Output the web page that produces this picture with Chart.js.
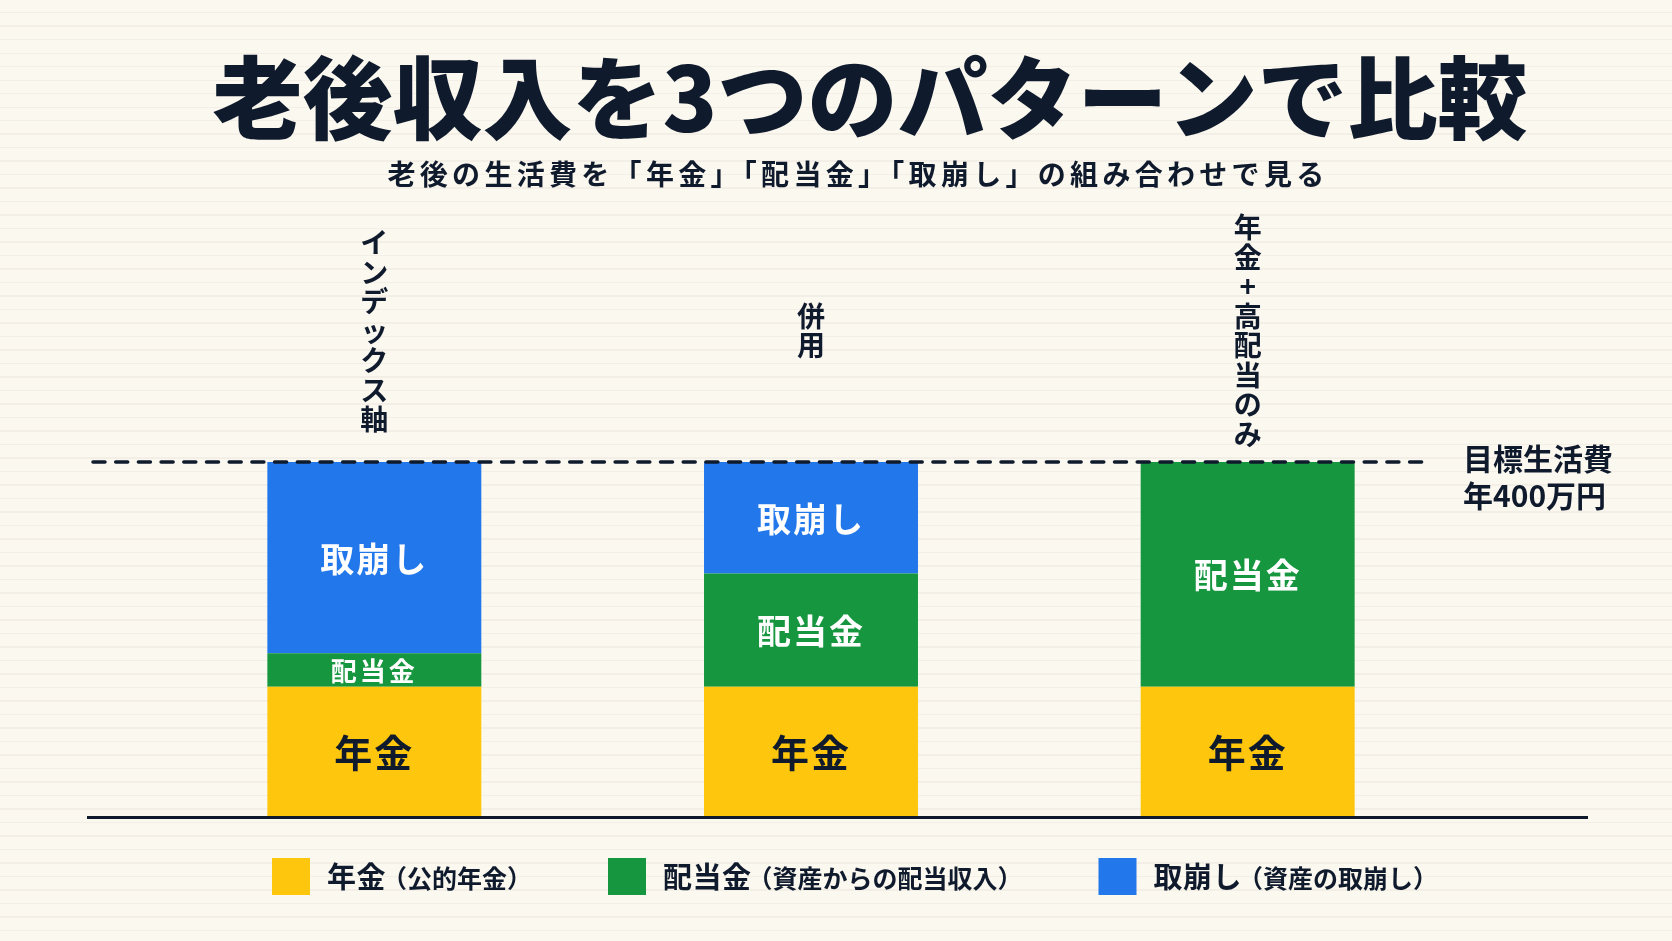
<!DOCTYPE html>
<html lang="ja">
<head>
<meta charset="utf-8">
<title>老後収入を3つのパターンで比較</title>
<script src="https://cdn.jsdelivr.net/npm/chart.js@4/dist/chart.umd.min.js"></script>
<style>
  html, body {
    margin: 0;
    padding: 0;
    width: 1672px;
    height: 941px;
    overflow: hidden;
    background-color: #fbf8f0;
    background-image: repeating-linear-gradient(to bottom, #fbf8f0 0px, #fbf8f0 12px, #f3efe6 12px, #f3efe6 13.5px);
  }
  canvas { display: block; }
</style>
</head>
<body>
<canvas id="incomeChart" width="1672" height="941"></canvas>
<script>
// データ（単位：万円／年）
const categories = ['インデックス軸', '併用', '年金+高配当のみ'];
const pension = [146, 146, 146];      // 年金
const dividend = [38, 128, 254];      // 配当金
const withdrawal = [216, 126, 0];     // 取崩し
const targetValue = 400;              // 目標生活費

const seriesNames = ['年金', '配当金', '取崩し'];
const seriesNotes = ['（公的年金）', '（資産からの配当収入）', '（資産の取崩し）'];
const seriesColors = ['#fec60c', '#16963f', '#2277ea'];
const seriesTextColors = ['#0f1a2c', '#ffffff', '#ffffff'];

const titleText = '老後収入を3つのパターンで比較';
const subtitleText = '老後の生活費を「年金」「配当金」「取崩し」の組み合わせで見る';
const targetLabel = ['目標生活費', '年400万円'];

const FONT = '"Noto Sans CJK JP", "Noto Sans", sans-serif';
const INK = '#0f1a2c';

// タイトル・ラベル・凡例を描くプラグイン
const overlayPlugin = {
    id: 'overlay',
    afterDatasetsDraw(chart) {
        const ctx = chart.ctx;
        const area = chart.chartArea;
        const yScale = chart.scales.y;

        // 各区分のラベル
        chart.data.datasets.forEach((ds, i) => {
            const meta = chart.getDatasetMeta(i);
            meta.data.forEach((bar, j) => {
                if (!ds.data[j]) return;
                const h = bar.base - bar.y;
                const size = h < 50 ? 26 : (i === 0 ? 38 : 34);
                ctx.save();
                ctx.font = `bold ${size}px ${FONT}`;
                ctx.letterSpacing = h < 50 ? '3px' : '2px';
                ctx.fillStyle = seriesTextColors[i];
                ctx.textAlign = 'center';
                ctx.textBaseline = 'middle';
                ctx.fillText(seriesNames[i], bar.x, (bar.y + bar.base) / 2 + 1);
                ctx.restore();
            });
        });

        // 目標ライン（破線）
        const ty = yScale.getPixelForValue(targetValue);
        ctx.save();
        ctx.strokeStyle = INK;
        ctx.lineWidth = 3.5;
        ctx.lineCap = 'round';
        ctx.setLineDash([12, 10.7]);
        ctx.beginPath();
        ctx.moveTo(area.left - 63, ty);
        ctx.lineTo(area.right - 37, ty);
        ctx.stroke();
        ctx.restore();

        // 基準線
        ctx.save();
        ctx.strokeStyle = INK;
        ctx.lineWidth = 3;
        ctx.beginPath();
        ctx.moveTo(area.left - 69, area.bottom + 1.5);
        ctx.lineTo(area.right + 122, area.bottom + 1.5);
        ctx.stroke();
        ctx.restore();

        // 目標ラベル
        ctx.save();
        ctx.font = `bold 30px ${FONT}`;
        ctx.fillStyle = INK;
        ctx.textAlign = 'left';
        ctx.textBaseline = 'middle';
        ctx.fillText(targetLabel[0], area.right - 3, ty - 3);
        ctx.fillText(targetLabel[1], area.right - 3, ty + 34);
        ctx.restore();

        // カテゴリ名（縦書き）
        const meta0 = chart.getDatasetMeta(0);
        categories.forEach((name, j) => {
            const x = meta0.data[j].x;
            const chars = Array.from(name);
            const step = 29.5;
            const startY = 331 - (chars.length - 1) * step / 2;
            ctx.save();
            ctx.font = `bold 28px ${FONT}`;
            ctx.fillStyle = INK;
            ctx.textAlign = 'center';
            ctx.textBaseline = 'middle';
            chars.forEach((c, k) => ctx.fillText(c, x, startY + k * step));
            ctx.restore();
        });

        // タイトル
        ctx.save();
        ctx.fillStyle = INK;
        ctx.textAlign = 'center';
        ctx.textBaseline = 'middle';
        ctx.font = `900 90px ${FONT}`;
        ctx.fillText(titleText, 870, 98);
        ctx.font = `bold 28px ${FONT}`;
        ctx.letterSpacing = '4.3px';
        ctx.fillText(subtitleText, 858, 174);
        ctx.restore();

        // 凡例
        let lx = 272;
        const ly = 877;
        seriesNames.forEach((name, i) => {
            ctx.save();
            ctx.fillStyle = seriesColors[i];
            ctx.fillRect(lx, ly - 19, 38, 37);
            lx += 38 + 17;
            ctx.fillStyle = INK;
            ctx.textAlign = 'left';
            ctx.textBaseline = 'middle';
            ctx.font = `bold 29px ${FONT}`;
            ctx.letterSpacing = '0.5px';
            ctx.fillText(name, lx, ly);
            lx += ctx.measureText(name).width;
            ctx.font = `bold 25px ${FONT}`;
            ctx.letterSpacing = '0px';
            ctx.fillText(seriesNotes[i], lx - 4, ly + 1);
            lx += ctx.measureText(seriesNotes[i]).width + 72;
            ctx.restore();
        });
    }
};

const canvas = document.getElementById('incomeChart');
const ctx = canvas.getContext('2d');

new Chart(ctx, {
    type: 'bar',
    data: {
        labels: categories,
        datasets: [
            { label: seriesNames[0], data: pension, backgroundColor: seriesColors[0] },
            { label: seriesNames[1], data: dividend, backgroundColor: seriesColors[1] },
            { label: seriesNames[2], data: withdrawal, backgroundColor: seriesColors[2] }
        ]
    },
    options: {
        responsive: false,
        maintainAspectRatio: false,
        animation: false,
        layout: { padding: { left: 156, right: 206, top: 462, bottom: 125 } },
        datasets: {
            bar: { barPercentage: 0.49, categoryPercentage: 1, borderWidth: 0 }
        },
        scales: {
            x: { stacked: true, display: false },
            y: { stacked: true, display: false, min: 0, max: 400 }
        },
        plugins: {
            legend: { display: false },
            tooltip: { enabled: false }
        }
    },
    plugins: [overlayPlugin]
});
</script>
</body>
</html>
